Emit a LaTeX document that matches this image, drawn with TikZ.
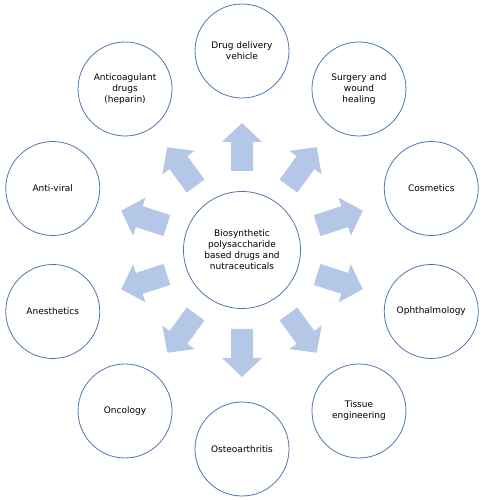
\documentclass[tikz,border=0pt]{standalone}
\usepackage{fontspec}
\setmainfont{DejaVu Sans}
\usetikzlibrary{calc}
\definecolor{ringblue}{RGB}{79,118,176}
\definecolor{arrowblue}{RGB}{180,199,231}
\tikzset{
  x=1pt,y=1pt,
  bubble/.style={circle,draw=ringblue,line width=0.8pt,minimum size=94pt,inner sep=0pt,align=center,font=\fontsize{9}{11}\selectfont,text=black},
  hub/.style={bubble,minimum size=117pt},
  blockarrow/.style={fill=arrowblue,draw=none}
}
\begin{document}
\begin{tikzpicture}
\useasboundingbox (0,0) rectangle (486,500);
\coordinate (c) at (242,250);
\node[hub] (hub) at (c) {Biosynthetic\\polysaccharide\\based drugs and\\nutraceuticals};
\node[bubble] (n1) at ($(c)+(90:199)$) {Drug delivery\\vehicle};
\node[bubble] (n2) at ($(c)+(54:199)$) {Surgery and\\wound\\healing};
\node[bubble] (n3) at ($(c)+(18:199)$) {Cosmetics};
\node[bubble] (n4) at ($(c)+(-18:199)$) {Ophthalmology};
\node[bubble] (n5) at ($(c)+(-54:199)$) {Tissue\\engineering};
\node[bubble] (n6) at ($(c)+(-90:199)$) {Osteoarthritis};
\node[bubble] (n7) at ($(c)+(-126:199)$) {Oncology};
\node[bubble] (n8) at ($(c)+(-162:199)$) {Anesthetics};
\node[bubble] (n9) at ($(c)+(162:199)$) {Anti-viral};
\node[bubble] (n10) at ($(c)+(126:199)$) {Anticoagulant\\drugs\\(heparin)};
\foreach \a in {90,54,18,-18,-54,-90,-126,-162,162,126}{
  \begin{scope}[shift={(c)},rotate=\a]
    \fill[blockarrow] (79,-11) -- (108,-11) -- (108,-20) -- (127,0) -- (108,20) -- (108,11) -- (79,11) -- cycle;
  \end{scope}
}
\end{tikzpicture}
\end{document}
